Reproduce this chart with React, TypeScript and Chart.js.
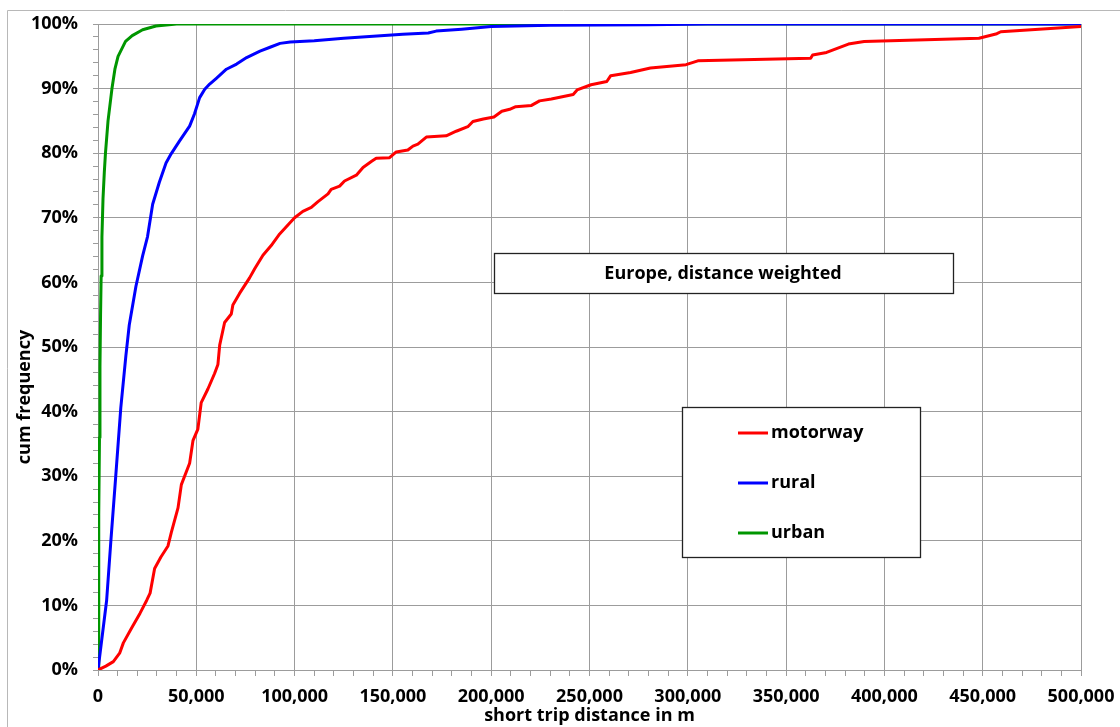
import { useEffect, useRef } from 'react';
import { Chart, registerables } from 'chart.js';

Chart.register(...registerables);

// Cumulative share of short trips (in %) by trip distance (in m)
const motorwayDist = [
  0, 4000, 7800, 11000, 12900, 17100, 21400, 24800, 26500, 28800, 32000, 35600, 37300, 40700, 42400,
  46600, 48300, 50800, 52500, 55900, 59300, 61000, 61900, 64400, 67800, 68600, 72000, 77100, 79700,
  83900, 88100, 92400, 96600, 100000, 104200, 108500, 111900, 117000, 118600, 122900, 125400, 131400,
  134800, 139000, 141500, 148300, 151700, 157600, 160200, 162700, 167000, 177100, 182200, 188100,
  190700, 196000, 201400, 205400, 209400, 212500, 220500, 224600, 230600, 241700, 243700, 250800,
  258800, 260800, 270900, 281000, 299100, 305100, 362500, 363500, 370600, 381700, 389700, 448100,
  457200, 459200, 500000,
];
const motorwayCum = [
  0, 0.6, 1.3, 2.6, 4.2, 6.5, 8.8, 10.8, 11.9, 15.7, 17.5, 19.2, 21.3, 25.1, 28.7,
  32, 35.5, 37.3, 41.4, 43.5, 45.9, 47.3, 50.3, 53.8, 55.1, 56.5, 58.3, 60.7, 62.1,
  64.2, 65.7, 67.5, 68.9, 70, 71, 71.6, 72.5, 73.7, 74.4, 74.9, 75.7, 76.6,
  77.8, 78.7, 79.2, 79.3, 80.2, 80.5, 81.1, 81.4, 82.5, 82.7, 83.4, 84.1,
  84.9, 85.3, 85.6, 86.5, 86.8, 87.2, 87.4, 88.1, 88.4, 89.1, 89.8, 90.6,
  91.1, 92, 92.5, 93.2, 93.7, 94.3, 94.7, 95.2, 95.6, 96.9, 97.3, 97.8,
  98.5, 98.8, 99.6,
];

const ruralDist = [
  0, 4400, 6500, 9000, 11600, 14200, 15900, 19300, 22700, 25200, 27800, 31200, 34600, 37200, 41500,
  46600, 49100, 51700, 54300, 56800, 60200, 65300, 70500, 75600, 82400, 87500, 92600, 97800, 110000,
  125000, 140000, 155000, 168000, 172000, 185000, 200000, 230000, 280000, 310000, 500000,
];
const ruralCum = [
  0, 10.8, 19.8, 29.9, 40.6, 48.7, 53.4, 59.4, 64.1, 67.1, 72.1, 75.5, 78.5, 79.9, 81.9,
  84.2, 86.1, 88.6, 89.9, 90.7, 91.6, 93, 93.8, 94.8, 95.8, 96.4, 97, 97.2, 97.4,
  97.8, 98.1, 98.4, 98.6, 98.9, 99.2, 99.6, 99.8, 99.9, 100, 100,
];

const urbanDist = [
  0, 250, 500, 750, 1000, 1300, 1600, 2000, 2550, 3200, 3800, 5100, 7100, 8600, 10200, 14000,
  17400, 22700, 29500, 40000, 500000,
];
const urbanCum = [
  0, 12, 24, 36, 47, 55, 61, 67, 73, 77, 80, 85, 90, 93, 95, 97.3, 98.2, 99.1, 99.7, 100, 100,
];

const seriesNames = ['motorway', 'rural', 'urban'];
const seriesColors = ['#ff0000', '#0000ff', '#009600'];

const xTitle = 'short trip distance in m';
const yTitle = 'cum frequency';
const noteText = 'Europe, distance weighted';

const FONT = '"Open Sans", Lato, sans-serif';
const GRID = '#9c9c9c';

const toPoints = (xs: number[], ys: number[]) => xs.map((x, i) => ({ x, y: ys[i] }));

const decorations = {
  id: 'decorations',
  beforeDraw(chart: any) {
    const { ctx, width, height } = chart;
    ctx.save();
    ctx.fillStyle = '#ffffff';
    ctx.fillRect(0, 0, width, height);
    // outer frame (top and left edges visible)
    ctx.strokeStyle = '#b8b8b8';
    ctx.lineWidth = 1;
    ctx.beginPath();
    ctx.moveTo(7.5, height);
    ctx.lineTo(7.5, 10.5);
    ctx.lineTo(width, 10.5);
    ctx.stroke();
    ctx.restore();
  },
  afterDraw(chart: any) {
    const { ctx, chartArea } = chart;
    ctx.save();
    ctx.fillStyle = '#000';
    ctx.font = `bold 18px ${FONT}`;
    ctx.textAlign = 'center';
    ctx.textBaseline = 'middle';
    // axis titles
    ctx.fillText(xTitle, (chartArea.left + chartArea.right) / 2, 716);
    ctx.save();
    ctx.translate(25, 397);
    ctx.rotate(-Math.PI / 2);
    ctx.fillText(yTitle, 0, 0);
    ctx.restore();

    // note box
    ctx.fillStyle = '#fff';
    ctx.fillRect(494, 253, 460, 41);
    ctx.strokeStyle = '#222';
    ctx.lineWidth = 1.3;
    ctx.strokeRect(494.5, 253.5, 459, 40);
    ctx.fillStyle = '#000';
    ctx.font = `bold 18px ${FONT}`;
    ctx.fillText(noteText, 723, 274);

    // legend box
    ctx.fillStyle = '#fff';
    ctx.fillRect(682, 407, 239, 151);
    ctx.strokeStyle = '#222';
    ctx.strokeRect(682.5, 407.5, 238, 150);
    ctx.font = `bold 18px ${FONT}`;
    ctx.textAlign = 'left';
    seriesNames.forEach((name, i) => {
      const y = 433 + i * 50;
      ctx.strokeStyle = seriesColors[i];
      ctx.lineWidth = 3;
      ctx.beginPath();
      ctx.moveTo(738, y);
      ctx.lineTo(768, y);
      ctx.stroke();
      ctx.fillStyle = '#000';
      ctx.fillText(name, 771, y);
    });
    ctx.restore();
  },
};

export default function App() {
  const canvasRef = useRef<HTMLCanvasElement | null>(null);

  useEffect(() => {
    const canvas = canvasRef.current;
    if (!canvas) return;
    const chart = new Chart(canvas, {
      type: 'line',
      data: {
        datasets: [
          { label: seriesNames[0], data: toPoints(motorwayDist, motorwayCum) },
          { label: seriesNames[1], data: toPoints(ruralDist, ruralCum) },
          { label: seriesNames[2], data: toPoints(urbanDist, urbanCum) },
        ].map((d, i) => ({
          ...d,
          borderColor: seriesColors[i],
          backgroundColor: seriesColors[i],
          borderWidth: 3,
          pointRadius: 0,
          tension: 0,
          fill: false,
          borderJoinStyle: 'round' as const,
          borderCapStyle: 'round' as const,
        })),
      },
      options: {
        responsive: false,
        animation: false,
        events: [],
        layout: { padding: { top: 24, right: 39, left: 0, bottom: 0 } },
        plugins: { legend: { display: false }, tooltip: { enabled: false }, title: { display: false } },
        scales: {
          x: {
            type: 'linear',
            min: 0,
            max: 500000,
            afterFit: (s: any) => {
              s.height = 57;
              s.paddingLeft = 0;
              s.paddingRight = 0;
            },
            ticks: {
              stepSize: 10000,
              autoSkip: false,
              maxRotation: 0,
              minRotation: 0,
              padding: 10,
              color: '#000',
              font: { family: FONT, size: 18, weight: 'bold' },
              callback: (v: any) => (Number(v) % 50000 === 0 ? Number(v).toLocaleString('en-US') : ''),
            },
            grid: {
              color: (c: any) => (c.tick && c.tick.value % 50000 === 0 ? GRID : 'rgba(0,0,0,0)'),
              tickColor: GRID,
              tickLength: 6,
              lineWidth: 1,
            },
            border: { color: GRID, width: 1 },
          },
          y: {
            type: 'linear',
            min: 0,
            max: 100,
            afterFit: (s: any) => {
              s.width = 98;
              s.paddingTop = 0;
              s.paddingBottom = 0;
            },
            ticks: {
              stepSize: 2,
              autoSkip: false,
              padding: 15,
              color: '#000',
              font: { family: FONT, size: 18, weight: 'bold' },
              callback: (v: any) => (Math.round(Number(v)) % 10 === 0 ? `${Math.round(Number(v))}%` : ''),
            },
            grid: {
              color: (c: any) => (c.tick && Math.round(c.tick.value) % 10 === 0 ? GRID : 'rgba(0,0,0,0)'),
              tickColor: GRID,
              tickLength: 5,
              lineWidth: 1,
            },
            border: { color: GRID, width: 1 },
          },
        },
      },
      plugins: [decorations],
    });
    return () => chart.destroy();
  }, []);

  return (
    <div style={{ position: 'fixed', left: 0, top: 0, width: 1120, height: 727, background: '#fff' }}>
      <canvas ref={canvasRef} width={1120} height={727} style={{ display: 'block' }} />
    </div>
  );
}
